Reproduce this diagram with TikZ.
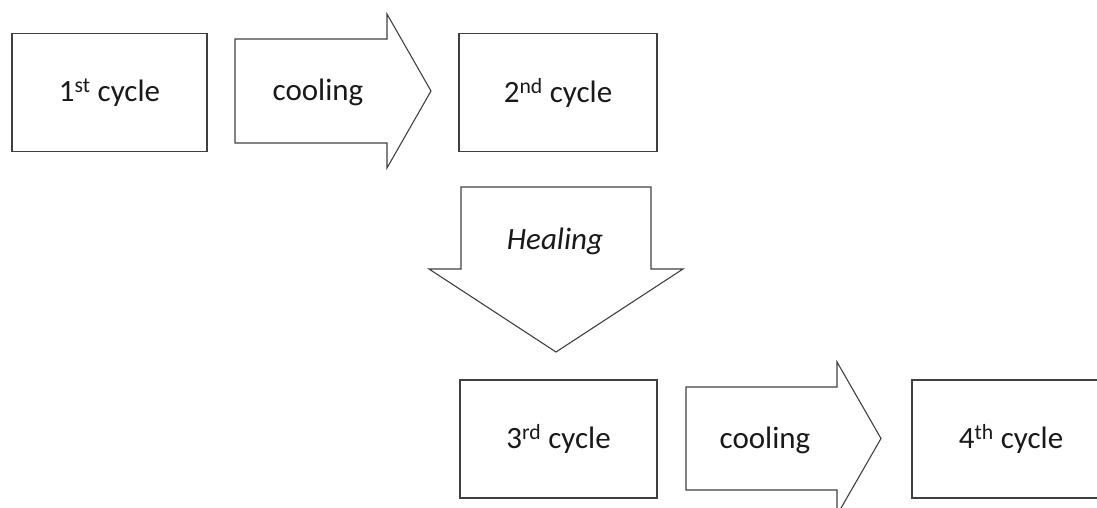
\documentclass[tikz,border=0pt]{standalone}
\usepackage{fontspec}
\setmainfont{Carlito}
\usepackage{tikz}

\begin{document}
\begin{tikzpicture}[x=1pt, y=-1pt,
  cyclebox/.style = {draw=black!75, line width=1.2pt, rectangle, minimum height=118pt, inner sep=0pt},
  bigarrow/.style = {draw=black!75, line width=1.1pt, line join=miter, fill=white},
  lbl/.style = {font=\fontsize{31}{36}\selectfont, text=black!90, inner sep=0pt}]
\useasboundingbox (0,0) rectangle (1097,508);
\clip (0,0) rectangle (1097,508);
\node[cyclebox, minimum width=195pt](c1) at (109.5,92.5){};
\node[cyclebox, minimum width=198pt](c2) at (558,92.5){};
\node[cyclebox, minimum width=197pt](c3) at (558.5,439){};
\node[cyclebox, minimum width=198pt](c4) at (1011,439){};
\node[lbl] at (c1){1\textsuperscript{st} cycle};
\node[lbl] at (c2){2\textsuperscript{nd} cycle};
\node[lbl] at (c3){3\textsuperscript{rd} cycle};
\node[lbl] at (c4){4\textsuperscript{th} cycle};
\draw[bigarrow] (235,39) -- (387,39) -- (387,14) -- (431,91) -- (387,168) -- (387,143) -- (235,143) -- cycle;
\draw[bigarrow] (461,187) -- (651,187) -- (651,269) -- (683,269) -- (556,352) -- (429,269) -- (461,269) -- cycle;
\draw[bigarrow] (686,387) -- (837,387) -- (837,362) -- (881,438.5) -- (837,515) -- (837,490) -- (686,490) -- cycle;
\node[lbl](cool1) at (318,92){cooling};
\node[lbl](heal) at (555,241){\itshape Healing};
\node[lbl](cool2) at (765,440){cooling};
\end{tikzpicture}
\end{document}
